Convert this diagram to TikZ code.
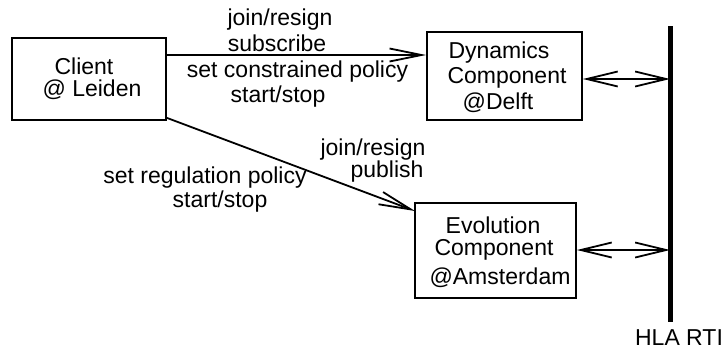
\documentclass[tikz,border=0pt]{standalone}
\usepackage{fontspec}
\setmainfont{Liberation Sans}
\usetikzlibrary{arrows.meta}
\begin{document}
\begin{tikzpicture}[x=1pt,y=-1pt,
  every node/.style={font=\fontsize{23}{24}\selectfont},
  box/.style={draw,line width=1.8pt,inner sep=0pt},
  lbl/.style={inner sep=0pt},
  link/.style={line width=1.8pt,-{Straight Barb[length=32pt,width=13pt]}},
  both/.style={line width=1.8pt,{Straight Barb[length=31pt,width=15pt]}-{Straight Barb[length=31pt,width=15pt]}},
  bus/.style={line width=5pt}]
\useasboundingbox (0,0) rectangle (727,351);

% component boxes
\node[box,minimum width=154pt,minimum height=82pt] (client) at (89,79) {};
\node[box,minimum width=155pt,minimum height=88pt] (dyn) at (504.5,76) {};
\node[box,minimum width=161pt,minimum height=95pt] (evo) at (495.5,250.5) {};

% box texts
\node[lbl] (c1) at (84,66) {Client};
\node[lbl] (c2) at (92,90) {@ Leiden};
\node[lbl] (d1) at (499,53) {Dynamics};
\node[lbl] (d2) at (507,78) {Component};
\node[lbl] (d3) at (498,103) {@Delft};
\node[lbl] (e1) at (493,225) {Evolution};
\node[lbl] (e2) at (494,250) {Component};
\node[lbl] (e3) at (500,278) {@Amsterdam};

% HLA RTI bus
\coordinate (rtitop) at (670,26);
\coordinate (rtibot) at (670,322);
\draw[bus] (rtitop) -- (rtibot);
\node[lbl] (rti) at (679,338) {HLA RTI};
\coordinate (rtid) at (670,79);
\coordinate (rtie) at (670,250);

% client to components
\draw[link] (client.east |- 0,55) -- (dyn.west |- 0,55);
\draw[link] (client.south east) ++(0,-3) coordinate (cse) -- (415,211) coordinate (evotip);

% components to the RTI
\draw[both] (dyn.east |- rtid) -- (rtid);
\draw[both] (evo.east |- rtie) -- (rtie);

% message labels
\node[lbl] (t1) at (280,20) {join/resign};
\node[lbl] (t2) at (277,43) {subscribe};
\node[lbl] (t3) at (297.5,72) {set constrained policy};
\node[lbl] (t4) at (278,97) {start/stop};
\node[lbl] (b1) at (373,150) {join/resign};
\node[lbl] (b2) at (387,172) {publish};
\node[lbl] (b3) at (205,178) {set regulation policy};
\node[lbl] (b4) at (220,202) {start/stop};
\end{tikzpicture}
\end{document}
